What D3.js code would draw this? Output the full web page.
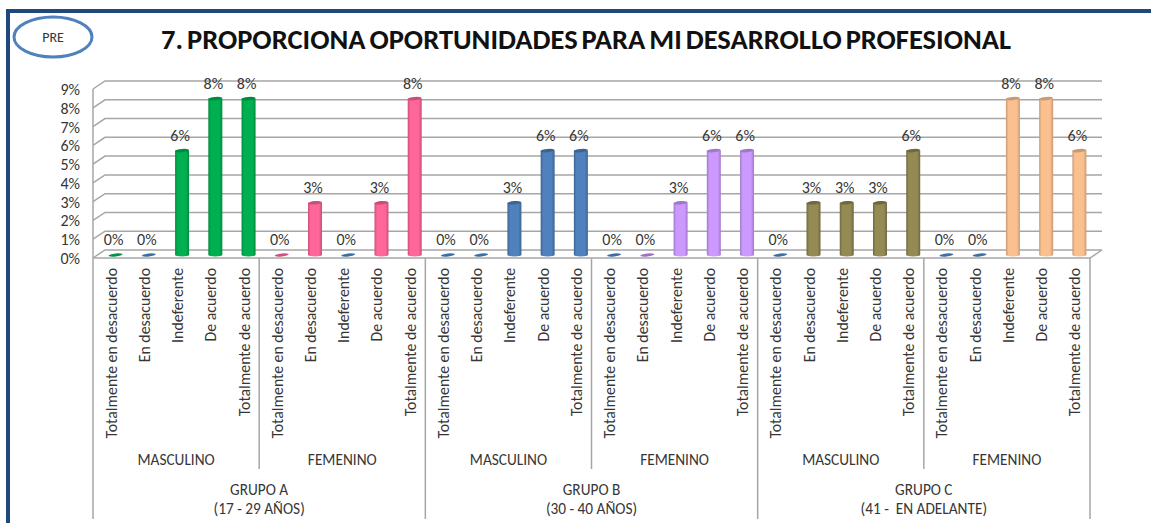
<!DOCTYPE html>
<html>
<head>
<meta charset="utf-8">
<script src="https://cdn.jsdelivr.net/npm/d3@7"></script>
<style>
html, body { margin: 0; padding: 0; background: #fff; }
svg { display: block; }
text { font-family: "Carlito", "Lato", "Open Sans", sans-serif; fill: #363636; white-space: pre; }
</style>
</head>
<body>
<div id="chart"></div>
<script>
// values (labels round them to 0, 3, 6, 8 %)
const answers = ["Totalmente en desacuerdo", "En desacuerdo", "Indeferente", "De acuerdo", "Totalmente de acuerdo"];
const sexes = ["MASCULINO", "FEMENINO"];
const groups = [["GRUPO A", "(17 - 29 AÑOS)"], ["GRUPO B", "(30 - 40 AÑOS)"], ["GRUPO C", "(41 -  EN ADELANTE)"]];
const values = [
  0, 0, 0.0556, 0.0833, 0.0833,
  0, 0.0278, 0, 0.0278, 0.0833,
  0, 0, 0.0278, 0.0556, 0.0556,
  0, 0, 0.0278, 0.0556, 0.0556,
  0, 0.0278, 0.0278, 0.0278, 0.0556,
  0, 0, 0.0833, 0.0833, 0.0556
];
const yTicks = [0, 0.01, 0.02, 0.03, 0.04, 0.05, 0.06, 0.07, 0.08, 0.09];

// one colour per block of five, flat zero bars mostly stay default blue
const blockColors = ["#00b050", "#ff6699", "#4f81bd", "#cc99ff", "#948a54", "#fac090"];
const blockDark = ["#008a3e", "#c94f78", "#3c6491", "#a078c8", "#6f683f", "#c99a72"];
const zeroColors = { 0: "#00904a", 5: "#d0507c", 16: "#a070c8" };

const width = 1151, height = 523;
const left = 93, right = 1090, depthX = 12, depthY = 8;
const floorY = 258, topY = 89, barW = 14;

const svg = d3.select("#chart").append("svg").attr("width", width).attr("height", height);

const x = d3.scaleBand().domain(d3.range(values.length)).range([left, right]);
const y = d3.scaleLinear().domain([0, 0.09]).range([floorY, topY]);
const fmt = d3.format(".0%");
const cx = i => x(i) + x.bandwidth() / 2 + 6;
const barY = v => y(v) - 3; // bars stand a little behind the front edge
const edge = i => i === values.length ? right : x(i);

// frame
svg.append("rect").attr("x", 8).attr("y", 11).attr("width", 1160).attr("height", 540)
  .attr("fill", "#fff").attr("stroke", "#1f497d").attr("stroke-width", 4);

// PRE ellipse
svg.append("ellipse").attr("cx", 53).attr("cy", 37).attr("rx", 39).attr("ry", 20)
  .attr("fill", "#fff").attr("stroke", "#4f81bd").attr("stroke-width", 3);
svg.append("text").attr("x", 53).attr("y", 42).attr("text-anchor", "middle")
  .style("font-size", "14px").text("PRE");

// title
svg.append("text").attr("x", 586).attr("y", 49).attr("text-anchor", "middle")
  .style("font-size", "28.5px").style("font-weight", "700").style("word-spacing", "-2.5px").style("fill", "#111")
  .text("7. PROPORCIONA OPORTUNIDADES PARA MI DESARROLLO PROFESIONAL");

// gridlines on back wall plus the slanted side wall
const grid = svg.append("g").attr("stroke", "#a6a6a6").attr("stroke-width", 1.5).attr("fill", "none");
grid.selectAll("path.tick").data(yTicks).join("path").attr("class", "tick")
  .attr("d", t => d3.line()([[left, y(t)], [left + depthX, y(t) - depthY], [right + depthX, y(t) - depthY]]));
grid.append("line").attr("x1", left).attr("x2", left).attr("y1", y(0.09)).attr("y2", floorY);
grid.append("path").attr("d", d3.line()([[left, floorY], [right, floorY], [right + depthX, floorY - depthY]]));

// y tick labels
svg.selectAll(".ytick").data(yTicks).join("text").attr("class", "ytick")
  .attr("x", 80).attr("y", d => y(d) + 6).attr("text-anchor", "end")
  .style("font-size", "16px").text(d => fmt(d));

// cylinder shading
const grads = svg.append("defs").selectAll("linearGradient").data(blockColors).join("linearGradient")
  .attr("id", (d, i) => "cyl" + i);
grads.append("stop").attr("offset", "0%").attr("stop-color", (d, i) => blockDark[i]);
grads.append("stop").attr("offset", "18%").attr("stop-color", d => d);
grads.append("stop").attr("offset", "78%").attr("stop-color", d => d);
grads.append("stop").attr("offset", "100%").attr("stop-color", (d, i) => blockDark[i]);

const rows = values.map((v, i) => ({ v, i, block: Math.floor(i / 5) }));

// bars with a height
const standing = rows.filter(d => d.v > 0);
svg.append("g").selectAll("path").data(standing).join("path")
  .attr("fill", d => `url(#cyl${d.block})`)
  .attr("d", d => {
    const c = cx(d.i), r = barW / 2, t = barY(d.v), b = barY(0);
    return `M${c - r},${t} L${c - r},${b} A${r},1.5 0 0 0 ${c + r},${b} L${c + r},${t} Z`;
  });
svg.append("g").selectAll("ellipse").data(standing).join("ellipse")
  .attr("rx", barW / 2).attr("ry", 1.7)
  .attr("transform", d => `translate(${cx(d.i)},${barY(d.v)}) rotate(-5)`)
  .attr("fill", d => blockDark[d.block]);

// zero values are only a flat disc
svg.append("g").selectAll("ellipse").data(rows.filter(d => d.v === 0)).join("ellipse")
  .attr("rx", 7).attr("ry", 1.5)
  .attr("transform", d => `translate(${cx(d.i)},${barY(0)}) rotate(-6)`)
  .attr("fill", d => zeroColors[d.i] || "#3c6ea5");

// data labels
svg.append("g").selectAll("text").data(rows).join("text")
  .attr("x", d => cx(d.i) - 2).attr("y", d => barY(d.v) - 10).attr("text-anchor", "middle")
  .style("font-size", "16px").text(d => fmt(d.v));

// category labels, rotated
svg.append("g").selectAll("text").data(rows).join("text")
  .attr("transform", d => `translate(${x(d.i) + x.bandwidth() / 2 + 7},268) rotate(-90)`)
  .attr("text-anchor", "end").style("font-size", "15.8px").text(d => answers[d.i % 5]);

// separators for the multi level axis
svg.append("g").attr("stroke", "#a6a6a6").attr("stroke-width", 1.5)
  .selectAll("line").data(d3.range(0, 31, 5)).join("line")
  .attr("x1", edge).attr("x2", edge).attr("y1", floorY)
  .attr("y2", i => i % 10 === 0 ? 519 : 469);

// sex labels
svg.append("g").selectAll("text").data(d3.range(6)).join("text")
  .attr("x", i => (edge(i * 5) + edge(i * 5 + 5)) / 2).attr("y", 465).attr("text-anchor", "middle")
  .style("font-size", "15.3px").text(i => sexes[i % 2]);

// group labels, two lines each
svg.append("g").selectAll("text").data(groups.flatMap((g, i) => g.map((line, j) => ({ line, i, j })))).join("text")
  .attr("x", d => (edge(d.i * 10) + edge(d.i * 10 + 10)) / 2).attr("y", d => 495 + d.j * 19)
  .attr("text-anchor", "middle").style("font-size", "15.3px").text(d => d.line);
</script>
</body>
</html>
